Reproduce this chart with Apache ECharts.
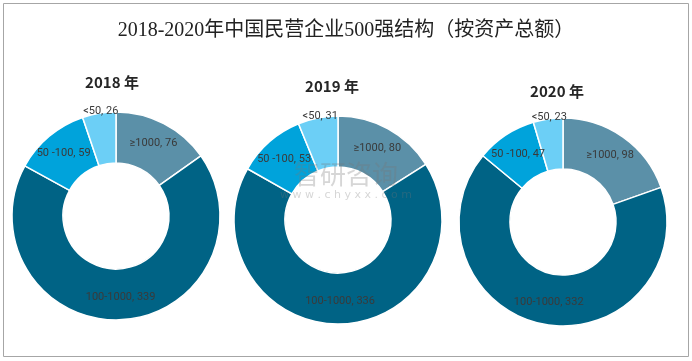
<!DOCTYPE html>
<html><head><meta charset="utf-8">
<script src="https://cdn.jsdelivr.net/npm/echarts@6/dist/echarts.min.js"></script>
<style>html,body{margin:0;padding:0;background:#fff}#c{width:692px;height:361px}</style>
</head><body><div id="c"></div>
<script>
const categories = ['≥1000', '100-1000', '50 -100', '<50'];
const years = ['2018 年', '2019 年', '2020 年'];
const values2018 = [76, 339, 59, 26];
const values2019 = [80, 336, 53, 31];
const values2020 = [98, 332, 47, 23];
const colors = ['#5b90a8', '#006385', '#00a3db', '#6ccff6'];

const allValues = [values2018, values2019, values2020];
const centers = [[116, 216], [338, 220], [563, 222]];
const titlePos = [[112, 82], [332, 86], [557, 91]];

const chart = echarts.init(document.getElementById('c'));
const series = allValues.map((vals, k) => ({
  type: 'pie',
  center: centers[k],
  radius: [53, 104],
  startAngle: 90,
  clockwise: true,
  avoidLabelOverlap: false,
  silent: true,
  itemStyle: { borderColor: '#fff', borderWidth: 1.5 },
  label: {
    show: true, position: 'inside', color: '#3a3a3a',
    fontSize: 11, fontFamily: 'Liberation Sans Narrow, Roboto, sans-serif',
    formatter: p => p.name + ', ' + p.value
  },
  labelLine: { show: false },
  data: categories.map((c, i) => {
    const d = { name: c, value: vals[i], itemStyle: { color: colors[i] } };
    if (i === 3) d.label = { offset: [-2, -24] };
    return d;
  })
}));

chart.setOption({
  animation: false,
  title: {
    text: '2018-2020年中国民营企业500强结构（按资产总额）',
    left: 'center', top: 16,
    textStyle: { fontSize: 20, fontWeight: 'normal', color: '#222',
      fontFamily: 'Liberation Serif, Noto Sans CJK SC, serif' }
  },
  graphic: [
    { type: 'rect', shape: { x: 3.5, y: 3.5, width: 685, height: 353 },
      style: { fill: 'none', stroke: '#a6a6a6', lineWidth: 1 }, silent: true },
    ...years.map((y, k) => ({
      type: 'text', x: titlePos[k][0], y: titlePos[k][1], silent: true,
      style: { text: y, fill: '#262626', font: 'bold 15px "Noto Sans CJK SC", sans-serif',
        textAlign: 'center', textVerticalAlign: 'middle' }
    })),
    { type: 'text', x: 346, y: 174, z: 100, silent: true,
      style: { text: '智研咨询', fill: 'rgba(120,120,120,0.3)',
        font: '26px "Noto Sans CJK SC", sans-serif', textAlign: 'center', textVerticalAlign: 'middle' } },
    { type: 'text', x: 346, y: 195, z: 100, silent: true,
      style: { text: 'w w w . c h y x x . c o m', fill: 'rgba(120,120,120,0.3)',
        font: '11px "DejaVu Sans", sans-serif', textAlign: 'center', textVerticalAlign: 'middle' } }
  ],
  series
});
</script></body></html>
